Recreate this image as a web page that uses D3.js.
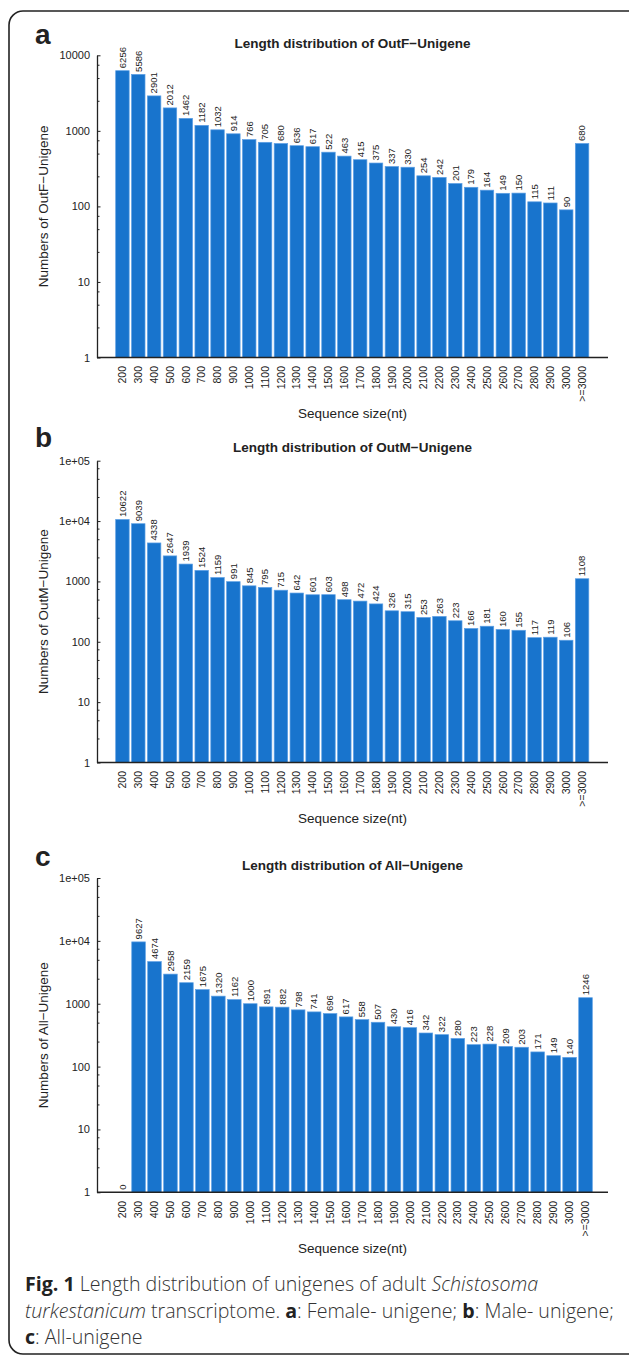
<!DOCTYPE html>
<html>
<head>
<meta charset="utf-8">
<script src="https://cdn.jsdelivr.net/npm/d3@7"></script>
<style>
  html, body { margin: 0; padding: 0; background: #fff; }
  svg { display: block; }
  .chart text { font-family: "Liberation Sans", Arial, sans-serif; fill: #222; }
  .caption { font-family: "Open Sans", sans-serif; font-size: 19.6px; font-weight: 300; fill: #333; }
</style>
</head>
<body>
<svg id="fig" width="629" height="1356"></svg>
<script>
// Length distribution data
const categories = ['200','300','400','500','600','700','800','900','1000','1100','1200','1300','1400',
  '1500','1600','1700','1800','1900','2000','2100','2200','2300','2400','2500','2600','2700','2800',
  '2900','3000','>=3000'];

const outF = [6256, 5586, 2901, 2012, 1462, 1182, 1032, 914, 766, 705, 680, 636, 617, 522, 463,
  415, 375, 337, 330, 254, 242, 201, 179, 164, 149, 150, 115, 111, 90, 680];

const outM = [10622, 9039, 4338, 2647, 1939, 1524, 1159, 991, 845, 795, 715, 642, 601, 603, 498,
  472, 424, 326, 315, 253, 263, 223, 166, 181, 160, 155, 117, 119, 106, 1108];

const allU = [0, 9627, 4674, 2958, 2159, 1675, 1320, 1162, 1000, 891, 882, 798, 741, 696, 617,
  558, 507, 430, 416, 342, 322, 280, 223, 228, 209, 203, 171, 149, 140, 1246];

const panelLetters = ['a', 'b', 'c'];
const panelTitles = ['Length distribution of OutF\u2212Unigene', 'Length distribution of OutM\u2212Unigene',
  'Length distribution of All\u2212Unigene'];
const yTitles = ['Numbers of OutF\u2212Unigene', 'Numbers of OutM\u2212Unigene', 'Numbers of All\u2212Unigene'];
const yMaxExp = [4, 5, 5];
const xTitle = 'Sequence size(nt)';

// layout per panel (pixel positions only)
const layout = [
  { top: 55.3, bottom: 357.5, barL: 114.5, barR: 590.0, titleY: 47.5, letterY: 43.5 },
  { top: 460.7, bottom: 762.5, barL: 114.5, barR: 590.0, titleY: 451.5, letterY: 447 },
  { top: 878.0, bottom: 1192.3, barL: 114.6, barR: 593.5, titleY: 869.5, letterY: 866 },
];
const AX_L = 97, AX_R = 608;
const BAR_FILL = '#1874CD';

const svg = d3.select('#fig');

// frame around the figure
svg.append('rect')
  .attr('x', 9).attr('y', 11).attr('width', 640).attr('height', 1343)
  .attr('rx', 14).attr('fill', 'none').attr('stroke', '#222').attr('stroke-width', 1.6);

const series = [outF, outM, allU];

series.forEach((vals, i) => {
  const L = layout[i];
  const g = svg.append('g').attr('class', 'chart');

  const x = d3.scaleBand().domain(categories).range([L.barL, L.barR])
    .paddingInner(0.15).paddingOuter(0.075);
  const y = d3.scaleLog().domain([1, Math.pow(10, yMaxExp[i])]).range([L.bottom, L.top]);

  // bars
  g.append('g').selectAll('rect')
    .data(vals.map((v, j) => ({ c: categories[j], v })).filter(d => d.v > 0))
    .enter().append('rect')
    .attr('x', d => x(d.c))
    .attr('width', x.bandwidth())
    .attr('y', d => y(d.v))
    .attr('height', d => L.bottom - y(d.v))
    .attr('fill', BAR_FILL)
    .attr('stroke', '#5c9fe4').attr('stroke-width', 0.7);

  // value labels (rotated)
  g.append('g').selectAll('text')
    .data(vals.map((v, j) => ({ c: categories[j], v })))
    .enter().append('text')
    .attr('transform', d => `translate(${x(d.c) + x.bandwidth() / 2},${(d.v > 0 ? y(d.v) : L.bottom) - 2.5}) rotate(-90)`)
    .attr('dy', '0.35em')
    .attr('text-anchor', 'start')
    .style('font-size', '9.5px')
    .text(d => d.v);

  // y axis, ticks point inward
  const majors = d3.range(0, yMaxExp[i] + 1).map(e => Math.pow(10, e));
  const minors = [];
  for (let e = 0; e < yMaxExp[i]; e++) [2.5, 5, 7.5].forEach(m => minors.push(m * Math.pow(10, e)));
  const fmt = v => v >= 1e4 && yMaxExp[i] === 5 ? '1e+0' + Math.round(Math.log10(v)) : String(v);

  const yAxis = g.append('g').attr('transform', `translate(${AX_L},0)`)
    .call(d3.axisLeft(y).tickValues(majors).tickFormat(fmt).tickSizeInner(-3.5).tickSizeOuter(0).tickPadding(7));
  yAxis.select('.domain').attr('stroke', '#222').attr('stroke-width', 1.3);
  yAxis.selectAll('.tick line').attr('stroke', '#222');
  yAxis.selectAll('.tick text').style('font-size', '11px').attr('fill', '#222');

  const yMinor = g.append('g').attr('transform', `translate(${AX_L},0)`)
    .call(d3.axisLeft(y).tickValues(minors).tickFormat('').tickSizeInner(-2.5).tickSizeOuter(0));
  yMinor.select('.domain').remove();
  yMinor.selectAll('.tick line').attr('stroke', '#222');

  // x axis line and rotated category labels
  g.append('line').attr('x1', AX_L).attr('x2', AX_R).attr('y1', L.bottom).attr('y2', L.bottom)
    .attr('stroke', '#222').attr('stroke-width', 1.4);
  const xAxis = g.append('g').attr('transform', `translate(0,${L.bottom})`)
    .call(d3.axisBottom(x).tickSize(0));
  xAxis.select('.domain').remove();
  xAxis.selectAll('.tick text')
    .attr('transform', 'translate(0,8.5) rotate(-90)')
    .attr('x', 0).attr('y', 0).attr('dy', '0.35em')
    .attr('text-anchor', 'end')
    .style('font-size', '10.5px').attr('fill', '#222');

  // titles
  g.append('text').attr('x', (AX_L + AX_R) / 2).attr('y', L.titleY)
    .attr('text-anchor', 'middle').style('font-size', '13.5px').style('font-weight', 'bold')
    .text(panelTitles[i]);
  g.append('text').attr('x', (AX_L + AX_R) / 2).attr('y', L.bottom + 60.5)
    .attr('text-anchor', 'middle').style('font-size', '13.5px')
    .text(xTitle);
  g.append('text')
    .attr('transform', `translate(48,${(L.top + L.bottom) / 2}) rotate(-90)`)
    .attr('text-anchor', 'middle').style('font-size', '13.5px')
    .text(yTitles[i]);
  g.append('text').attr('x', 35).attr('y', L.letterY)
    .style('font-size', '28px').style('font-weight', 'bold').attr('fill', '#111')
    .text(panelLetters[i]);
});

// caption
const capLines = [
  [{ t: 'Fig. 1', b: 1 }, { t: ' Length distribution of unigenes of adult ' }, { t: 'Schistosoma', it: 1 }],
  [{ t: 'turkestanicum', it: 1 }, { t: ' transcriptome. ' }, { t: 'a', b: 1 }, { t: ': Female- unigene; ' },
   { t: 'b', b: 1 }, { t: ': Male- unigene;' }],
  [{ t: 'c', b: 1 }, { t: ': All-unigene' }],
];
const capY = [1291, 1318, 1344];
capLines.forEach((line, k) => {
  const txt = svg.append('text').attr('class', 'caption').attr('x', 25).attr('y', capY[k])
    .attr('xml:space', 'preserve');
  line.forEach(s => {
    txt.append('tspan')
      .style('font-weight', s.b ? 'bold' : null)
      .style('font-style', s.it ? 'italic' : null)
      .style('fill', s.b ? '#222' : null)
      .text(s.t);
  });
});
</script>
</body>
</html>
